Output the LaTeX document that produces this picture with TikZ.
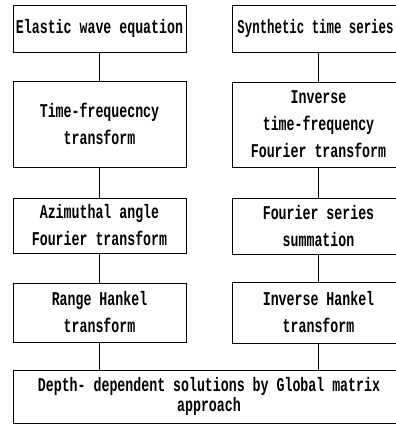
\documentclass[tikz,border=0pt]{standalone}
\usepackage{fontspec}
\newfontfamily\flowfont[FakeStretch=0.68]{Liberation Mono}
\newfontfamily\flownarrow[FakeStretch=0.635]{Liberation Mono}
\usetikzlibrary{positioning}

\begin{document}
\begin{tikzpicture}[
  x=1bp, y=-1bp,
  stage/.style = {draw, line width=0.9bp, minimum width=173bp, inner sep=0pt,
                  align=center, font=\flowfont\bfseries\fontsize{19.5bp}{27bp}\selectfont},
  link/.style  = {line width=0.9bp},
]
\useasboundingbox (0,0) rectangle (396,432);
\clip (0,0) rectangle (396,432);

% -- forward chain (left) --
\node[stage, minimum height=47bp] (wave)   at (99.5,28.5)  {Elastic wave equation};
\node[stage, minimum height=86bp] (tft)    at (99.5,124)   {Time-frequecncy\\transform};
\node[stage, minimum height=55bp] (azim)   at (99.5,225.5) {Azimuthal angle\\Fourier transform};
\node[stage, minimum height=59bp] (hankel) at (99.5,312.5) {Range Hankel\\transform};

% -- inverse chain (right) --
\node[stage, minimum height=47bp] (synth)  at (318.5,28.5)
      {\hspace*{-6bp}\flownarrow\bfseries Synthetic time series};
\node[stage, minimum height=85bp] (itft)   at (318.5,124.5) {Inverse\\time-frequency\\Fourier transform};
\node[stage, minimum height=56bp] (fsum)   at (318.5,226)  {Fourier series\\summation};
\node[stage, minimum height=61bp] (ihank)  at (318.5,312.5) {Inverse Hankel\\transform};

% -- common solver --
\node[stage, minimum width=392bp, minimum height=53bp,
      font=\flowfont\bfseries\fontsize{19.5bp}{20bp}\selectfont] (depth) at (209,396.5)
      {Depth- dependent solutions by Global matrix\\approach};

\draw[link] (wave)   -- (tft);
\draw[link] (tft)    -- (azim);
\draw[link] (azim)   -- (hankel);
\draw[link] (hankel.south) -- (hankel.south |- depth.north);

\draw[link] (synth)  -- (itft);
\draw[link] (itft)   -- (fsum);
\draw[link] (fsum)   -- (ihank);
\draw[link] (ihank.south) -- (ihank.south |- depth.north);

\end{tikzpicture}
\end{document}
